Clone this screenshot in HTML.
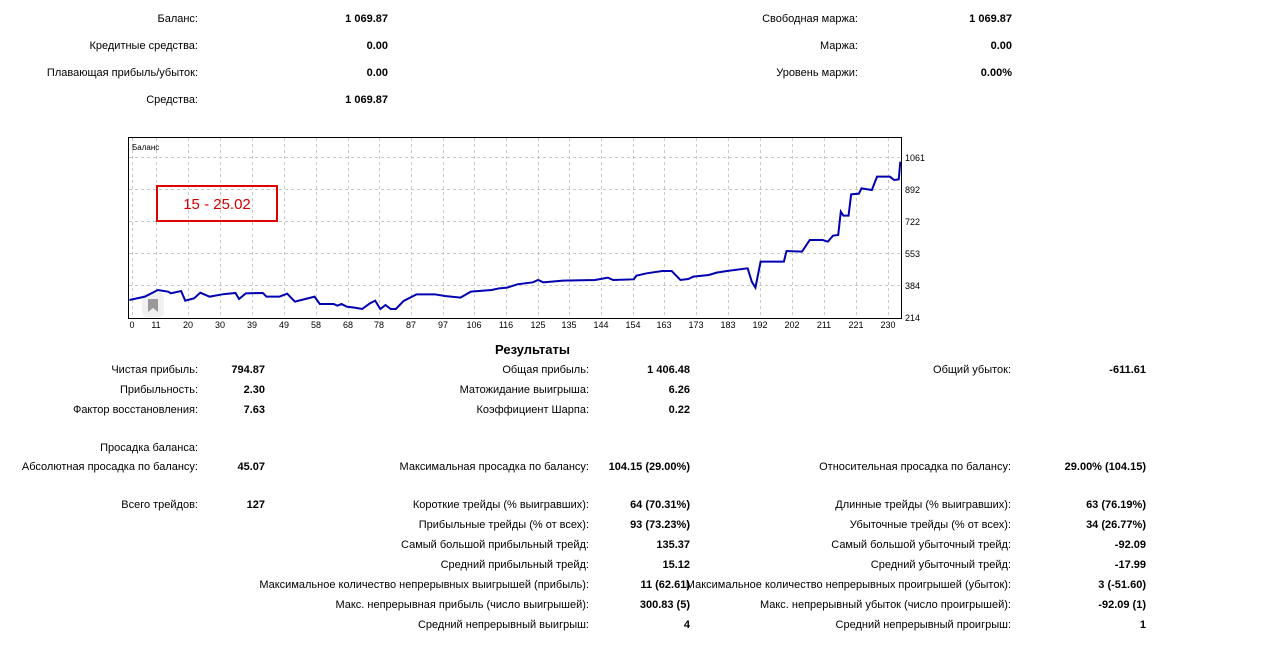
<!DOCTYPE html>
<html><head><meta charset="utf-8"><style>
body{margin:0;width:1274px;height:652px;background:#fff;position:relative;overflow:hidden;font-family:"Liberation Sans","DejaVu Sans",sans-serif;font-size:11px;color:#000}
.t{position:absolute;white-space:nowrap;line-height:14px;text-align:right}
.b{font-weight:bold}
</style></head><body>
<div class="t" style="right:1076px;top:12px">Баланс:</div><div class="t b" style="right:886px;top:12px">1 069.87</div>
<div class="t" style="right:1076px;top:39px">Кредитные средства:</div><div class="t b" style="right:886px;top:39px">0.00</div>
<div class="t" style="right:1076px;top:66px">Плавающая прибыль/убыток:</div><div class="t b" style="right:886px;top:66px">0.00</div>
<div class="t" style="right:1076px;top:93px">Средства:</div><div class="t b" style="right:886px;top:93px">1 069.87</div>
<div class="t" style="right:416px;top:12px">Свободная маржа:</div><div class="t b" style="right:262px;top:12px">1 069.87</div>
<div class="t" style="right:416px;top:39px">Маржа:</div><div class="t b" style="right:262px;top:39px">0.00</div>
<div class="t" style="right:416px;top:66px">Уровень маржи:</div><div class="t b" style="right:262px;top:66px">0.00%</div>

<svg style="position:absolute;left:0;top:0" width="1274" height="340">
<rect x="128.5" y="137.5" width="773" height="181" fill="#fff" stroke="#000"/>
<g stroke="#c8c8c8" stroke-dasharray="3,3" stroke-width="1">
<line x1="129" x2="901" y1="157.5" y2="157.5"/><line x1="129" x2="901" y1="189.5" y2="189.5"/><line x1="129" x2="901" y1="221.5" y2="221.5"/><line x1="129" x2="901" y1="253.5" y2="253.5"/><line x1="129" x2="901" y1="285.5" y2="285.5"/>
<line x1="132.5" x2="132.5" y1="138" y2="318"/><line x1="156.5" x2="156.5" y1="138" y2="318"/><line x1="188.5" x2="188.5" y1="138" y2="318"/><line x1="220.5" x2="220.5" y1="138" y2="318"/><line x1="252.5" x2="252.5" y1="138" y2="318"/><line x1="284.5" x2="284.5" y1="138" y2="318"/><line x1="316.5" x2="316.5" y1="138" y2="318"/><line x1="348.5" x2="348.5" y1="138" y2="318"/><line x1="379.5" x2="379.5" y1="138" y2="318"/><line x1="411.5" x2="411.5" y1="138" y2="318"/><line x1="443.5" x2="443.5" y1="138" y2="318"/><line x1="474.5" x2="474.5" y1="138" y2="318"/><line x1="506.5" x2="506.5" y1="138" y2="318"/><line x1="538.5" x2="538.5" y1="138" y2="318"/><line x1="569.5" x2="569.5" y1="138" y2="318"/><line x1="601.5" x2="601.5" y1="138" y2="318"/><line x1="633.5" x2="633.5" y1="138" y2="318"/><line x1="664.5" x2="664.5" y1="138" y2="318"/><line x1="696.5" x2="696.5" y1="138" y2="318"/><line x1="728.5" x2="728.5" y1="138" y2="318"/><line x1="760.5" x2="760.5" y1="138" y2="318"/><line x1="792.5" x2="792.5" y1="138" y2="318"/><line x1="824.5" x2="824.5" y1="138" y2="318"/><line x1="856.5" x2="856.5" y1="138" y2="318"/><line x1="888.5" x2="888.5" y1="138" y2="318"/>
</g>
<g font-size="9" font-family="Liberation Sans,sans-serif" fill="#000">
<text x="905" y="161">1061</text><text x="905" y="193">892</text><text x="905" y="225">722</text><text x="905" y="257">553</text><text x="905" y="289">384</text><text x="905" y="321">214</text>
<g text-anchor="middle"><text x="132" y="328">0</text><text x="156" y="328">11</text><text x="188" y="328">20</text><text x="220" y="328">30</text><text x="252" y="328">39</text><text x="284" y="328">49</text><text x="316" y="328">58</text><text x="348" y="328">68</text><text x="379" y="328">78</text><text x="411" y="328">87</text><text x="443" y="328">97</text><text x="474" y="328">106</text><text x="506" y="328">116</text><text x="538" y="328">125</text><text x="569" y="328">135</text><text x="601" y="328">144</text><text x="633" y="328">154</text><text x="664" y="328">163</text><text x="696" y="328">173</text><text x="728" y="328">183</text><text x="760" y="328">192</text><text x="792" y="328">202</text><text x="824" y="328">211</text><text x="856" y="328">221</text><text x="888" y="328">230</text></g>
<text x="132" y="150" font-size="8">Баланс</text>
</g>
<rect x="157" y="186" width="120" height="35" fill="none" stroke="#e00000" stroke-width="2"/>
<text x="217" y="209" text-anchor="middle" font-size="15" fill="#d00000" font-family="Liberation Sans,sans-serif">15 - 25.02</text>
<rect x="142" y="293" width="22" height="24" rx="5" fill="#f0f0f0"/>
<path d="M148 299h10v13l-5-4-5 4z" fill="#999"/>
<g transform="translate(124.2,135) scale(0.5174,0.3333)">
<polyline fill="none" stroke="#0000b0" stroke-width="2" vector-effect="non-scaling-stroke" points="10,495 40,485 65,465 85,470 90,475 110,468 118,497 135,490 147,473 165,485 190,478 215,474 222,492 235,475 268,474 275,485 300,485 315,476 330,500 350,492 368,485 378,507 405,507 412,512 420,507 430,515 445,518 460,522 475,505 485,497 495,522 505,510 515,522 525,522 540,498 565,478 600,478 620,483 650,488 670,470 710,465 725,460 740,458 760,448 790,442 800,435 810,442 848,437 910,435 935,428 945,435 985,433 990,422 1010,415 1040,408 1058,408 1075,435 1090,432 1100,425 1130,420 1145,413 1165,408 1205,400 1213,440 1220,458 1230,380 1275,380 1280,348 1310,350 1325,315 1350,315 1360,320 1370,302 1380,300 1385,230 1390,242 1400,242 1405,178 1420,176 1425,160 1445,165 1455,125 1480,125 1488,135 1497,133 1500,80"/>
</g>
</svg>

<div class="t b" style="left:495px;top:342px;font-size:13px;line-height:16px">Результаты</div>

<div class="t" style="right:1076px;top:363px">Чистая прибыль:</div><div class="t b" style="right:1009px;top:363px">794.87</div>
<div class="t" style="right:1076px;top:383px">Прибыльность:</div><div class="t b" style="right:1009px;top:383px">2.30</div>
<div class="t" style="right:1076px;top:403px">Фактор восстановления:</div><div class="t b" style="right:1009px;top:403px">7.63</div>
<div class="t" style="right:1076px;top:441px">Просадка баланса:</div>
<div class="t" style="right:1076px;top:460px">Абсолютная просадка по балансу:</div><div class="t b" style="right:1009px;top:460px">45.07</div>
<div class="t" style="right:1076px;top:498px">Всего трейдов:</div><div class="t b" style="right:1009px;top:498px">127</div>

<div class="t" style="right:685px;top:363px">Общая прибыль:</div><div class="t b" style="right:584px;top:363px">1 406.48</div>
<div class="t" style="right:685px;top:383px">Матожидание выигрыша:</div><div class="t b" style="right:584px;top:383px">6.26</div>
<div class="t" style="right:685px;top:403px">Коэффициент Шарпа:</div><div class="t b" style="right:584px;top:403px">0.22</div>
<div class="t" style="right:685px;top:460px">Максимальная просадка по балансу:</div><div class="t b" style="right:584px;top:460px">104.15 (29.00%)</div>
<div class="t" style="right:685px;top:498px">Короткие трейды (% выигравших):</div><div class="t b" style="right:584px;top:498px">64 (70.31%)</div>
<div class="t" style="right:685px;top:518px">Прибыльные трейды (% от всех):</div><div class="t b" style="right:584px;top:518px">93 (73.23%)</div>
<div class="t" style="right:685px;top:538px">Самый большой прибыльный трейд:</div><div class="t b" style="right:584px;top:538px">135.37</div>
<div class="t" style="right:685px;top:558px">Средний прибыльный трейд:</div><div class="t b" style="right:584px;top:558px">15.12</div>
<div class="t" style="right:685px;top:578px">Максимальное количество непрерывных выигрышей (прибыль):</div><div class="t b" style="right:584px;top:578px">11 (62.61)</div>
<div class="t" style="right:685px;top:598px">Макс. непрерывная прибыль (число выигрышей):</div><div class="t b" style="right:584px;top:598px">300.83 (5)</div>
<div class="t" style="right:685px;top:618px">Средний непрерывный выигрыш:</div><div class="t b" style="right:584px;top:618px">4</div>

<div class="t" style="right:263px;top:363px">Общий убыток:</div><div class="t b" style="right:128px;top:363px">-611.61</div>
<div class="t" style="right:263px;top:460px">Относительная просадка по балансу:</div><div class="t b" style="right:128px;top:460px">29.00% (104.15)</div>
<div class="t" style="right:263px;top:498px">Длинные трейды (% выигравших):</div><div class="t b" style="right:128px;top:498px">63 (76.19%)</div>
<div class="t" style="right:263px;top:518px">Убыточные трейды (% от всех):</div><div class="t b" style="right:128px;top:518px">34 (26.77%)</div>
<div class="t" style="right:263px;top:538px">Самый большой убыточный трейд:</div><div class="t b" style="right:128px;top:538px">-92.09</div>
<div class="t" style="right:263px;top:558px">Средний убыточный трейд:</div><div class="t b" style="right:128px;top:558px">-17.99</div>
<div class="t" style="right:263px;top:578px">Максимальное количество непрерывных проигрышей (убыток):</div><div class="t b" style="right:128px;top:578px">3 (-51.60)</div>
<div class="t" style="right:263px;top:598px">Макс. непрерывный убыток (число проигрышей):</div><div class="t b" style="right:128px;top:598px">-92.09 (1)</div>
<div class="t" style="right:263px;top:618px">Средний непрерывный проигрыш:</div><div class="t b" style="right:128px;top:618px">1</div>
</body></html>
